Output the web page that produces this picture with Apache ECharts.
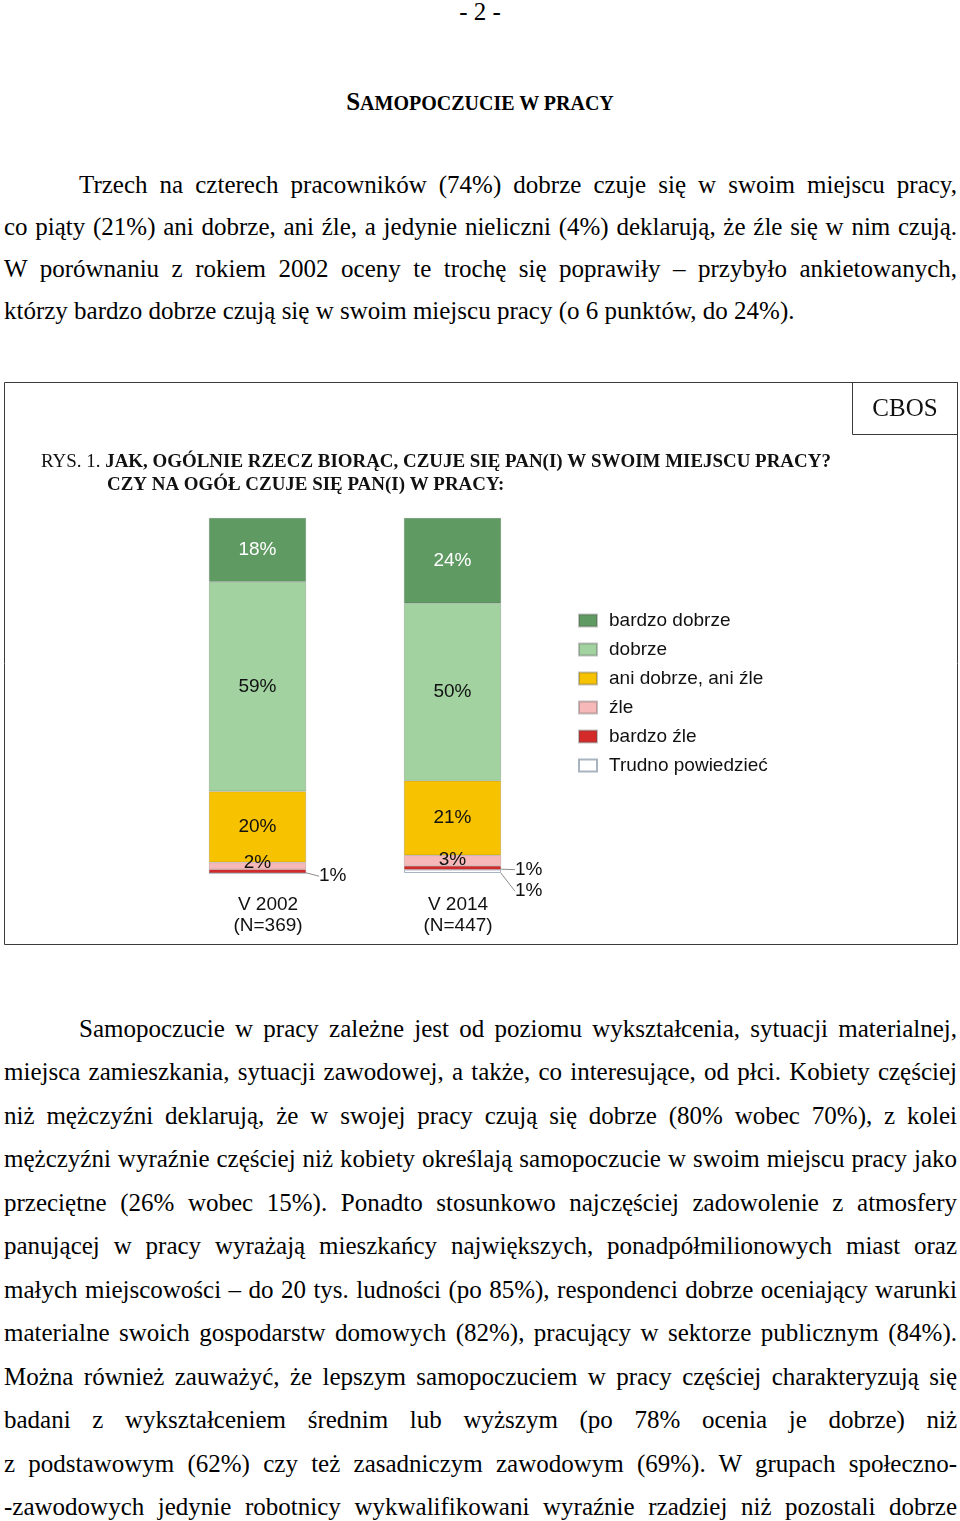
<!DOCTYPE html>
<html lang="pl">
<head>
<meta charset="utf-8">
<title>Samopoczucie w pracy</title>
<script src="https://cdn.jsdelivr.net/npm/echarts@6/dist/echarts.min.js"></script>
<style>
  html, body { margin: 0; padding: 0; background: #fff; }
  body { width: 960px; height: 1521px; position: relative; overflow: hidden;
         font-family: 'Liberation Serif', 'Times New Roman', serif; color: #000; }
  .abs { position: absolute; }
  .pagenum { left: 0; width: 960px; top: -3px; text-align: center; font-size: 25px; line-height: 30px; }
  .heading { left: 0; width: 960px; top: 87px; text-align: center; font-weight: bold; line-height: 30px; }
  .para { left: 4px; width: 953px; font-size: 25px; }
  .ln { white-space: normal; height: auto; }
  .j { text-align: justify; text-align-last: justify; }
  .l { text-align: left; }
  .ind { padding-left: 75px; }
  #chart { position: absolute; left: 0; top: 382px; width: 960px; height: 564px; }
</style>
</head>
<body>
<div class="abs pagenum">- 2 -</div>
<div class="abs heading"><span style="font-size:25px">S</span><span style="font-size:20px">AMOPOCZUCIE W PRACY</span></div>

<div class="abs para" id="p1" style="top:164px; line-height:42px;">
  <div class="ln j ind">Trzech na czterech pracowników (74%) dobrze czuje się w swoim miejscu pracy,</div>
  <div class="ln j">co piąty (21%) ani dobrze, ani źle, a jedynie nieliczni (4%) deklarują, że źle się w nim czują.</div>
  <div class="ln j">W porównaniu z rokiem 2002 oceny te trochę się poprawiły – przybyło ankietowanych,</div>
  <div class="ln l">którzy bardzo dobrze czują się w swoim miejscu pracy (o 6 punktów, do 24%).</div>
</div>

<div id="chart"></div>

<div class="abs para" id="p2" style="top:1007px; line-height:43.45px;">
  <div class="ln j ind">Samopoczucie w pracy zależne jest od poziomu wykształcenia, sytuacji materialnej,</div>
  <div class="ln j">miejsca zamieszkania, sytuacji zawodowej, a także, co interesujące, od płci. Kobiety częściej</div>
  <div class="ln j">niż mężczyźni deklarują, że w swojej pracy czują się dobrze (80% wobec 70%), z kolei</div>
  <div class="ln j">mężczyźni wyraźnie częściej niż kobiety określają samopoczucie w swoim miejscu pracy jako</div>
  <div class="ln j">przeciętne (26% wobec 15%). Ponadto stosunkowo najczęściej zadowolenie z atmosfery</div>
  <div class="ln j">panującej w pracy wyrażają mieszkańcy największych, ponadpółmilionowych miast oraz</div>
  <div class="ln j">małych miejscowości – do 20 tys. ludności (po 85%), respondenci  dobrze oceniający warunki</div>
  <div class="ln j">materialne swoich gospodarstw domowych (82%), pracujący w sektorze publicznym (84%).</div>
  <div class="ln j">Można również zauważyć, że lepszym samopoczuciem w pracy częściej charakteryzują się</div>
  <div class="ln j">badani z wykształceniem średnim lub wyższym (po 78% ocenia je dobrze) niż</div>
  <div class="ln j">z podstawowym (62%) czy też zasadniczym zawodowym (69%). W grupach społeczno-</div>
  <div class="ln j">-zawodowych jedynie robotnicy wykwalifikowani wyraźnie rzadziej niż pozostali dobrze</div>
</div>

<script>
// ---- Data ----
const categories = ['V 2002', 'V 2014'];
const sampleSizes = ['(N=369)', '(N=447)'];
const seriesNames = ['bardzo dobrze', 'dobrze', 'ani dobrze, ani źle', 'źle', 'bardzo źle', 'Trudno powiedzieć'];
const bardzoDobrze = [18, 24];
const dobrze = [59, 50];
const aniDobrzeAniZle = [20, 21];
const zle = [2, 3];
const bardzoZle = [1, 1];
const trudnoPowiedziec = [0, 1];

const titlePrefix = 'RYS. 1. ';
const titleLine1 = 'JAK, OGÓLNIE RZECZ BIORĄC, CZUJE SIĘ PAN(I) W SWOIM MIEJSCU PRACY?';
const titleLine2 = 'CZY NA OGÓŁ CZUJE SIĘ PAN(I) W PRACY:';
const sourceLabel = 'CBOS';

// ---- Styles ----
const colors = ['#5f9a62', '#a1d2a0', '#f7c200', '#f6b8b8', '#d42a2a', '#ffffff'];
const sans = 'Liberation Sans, Arial, sans-serif';
const serif = 'Liberation Serif, Times New Roman, serif';
const fs = 19;

// fit bold title width
const cnv = document.createElement('canvas').getContext('2d');
cnv.font = 'bold 100px "Liberation Serif"';
const w100 = cnv.measureText(titleLine1).width;
const titleSize = Math.max(14, Math.min(22, 726 / w100 * 100));

const values = [bardzoDobrze, dobrze, aniDobrzeAniZle, zle, bardzoZle, trudnoPowiedziec];

function labelFor(i) {
  const base = { show: true, fontFamily: sans, fontSize: fs, color: '#111', formatter: '{c}%' };
  if (i === 0) return Object.assign(base, { position: 'inside', color: '#fff' });
  if (i <= 3) return Object.assign(base, { position: 'inside' });
  return Object.assign(base, { position: 'right', distance: 5 });
}
function layoutFor(i) {
  if (i === 3) return function (p) { return { dy: p.dataIndex === 0 ? -3 : -1 }; };
  if (i === 4) return function (p) { return p.dataIndex === 0 ? { dx: 8, dy: 5 } : { dx: 9, dy: 2 }; };
  if (i === 5) return function (p) { return { dx: 9, dy: 20 }; };
  return undefined;
}

// bottom of the stack first: 'Trudno powiedzieć' ... 'bardzo dobrze' on top
const series = seriesNames.map(function (name, i) {
  const s = {
    name: name,
    type: 'bar',
    stack: 'total',
    barWidth: 97,
    itemStyle: {
      color: colors[i],
      borderColor: i === 5 ? '#a8b4c0' : 'rgba(80,80,80,0.35)',
      borderWidth: i === 5 ? 1 : 0.6
    },
    label: labelFor(i),
    emphasis: { disabled: true },
    data: values[i].map(function (v) {
      return v > 0 ? { value: v } : { value: v, label: { show: false }, labelLine: { show: false } };
    })
  };
  const lay = layoutFor(i);
  if (lay) s.labelLayout = lay;
  if (i >= 4) s.labelLine = { show: true, lineStyle: { color: '#8c8c8c', width: 1 } };
  return s;
}).reverse();

const chart = echarts.init(document.getElementById('chart'), null, { renderer: 'canvas' });
chart.setOption({
  animation: false,
  backgroundColor: 'transparent',
  grid: { left: 160, width: 390, top: 136, bottom: 73, containLabel: false },
  xAxis: {
    type: 'category',
    data: categories,
    axisLine: { show: false },
    axisTick: { show: false },
    axisLabel: {
      margin: 22,
      formatter: function (v, idx) {
        const k = 'p' + idx;
        return '{' + k + '|' + v + '}\n{' + k + '|' + sampleSizes[idx] + '}';
      },
      rich: {
        p0: { fontFamily: sans, fontSize: fs, lineHeight: 20.5, color: '#111', padding: [0, 0, 0, 21] },
        p1: { fontFamily: sans, fontSize: fs, lineHeight: 20.5, color: '#111', padding: [0, 0, 0, 11] }
      }
    }
  },
  yAxis: { type: 'value', min: 0, max: 100, show: false, splitLine: { show: false } },
  legend: {
    data: seriesNames,
    orient: 'vertical',
    left: 578,
    top: 229,
    padding: 0,
    itemWidth: 18,
    itemHeight: 12,
    itemGap: 10,
    icon: 'rect',
    selectedMode: false,
    textStyle: { fontFamily: sans, fontSize: fs, lineHeight: 19, color: '#111', padding: [0, 0, 0, 7] }
  },
  graphic: [
    { type: 'rect', shape: { x: 4.5, y: 0.5, width: 953, height: 562 }, style: { fill: 'none', stroke: '#3a3a3a', lineWidth: 1 }, silent: true },
    { type: 'rect', shape: { x: 852.5, y: 0.5, width: 105, height: 52 }, style: { fill: 'none', stroke: '#3a3a3a', lineWidth: 1 }, silent: true },
    { type: 'text', x: 905, y: 27, style: { text: sourceLabel, fontFamily: serif, fontSize: 25, fill: '#111', textAlign: 'center', textVerticalAlign: 'middle' } },
    { type: 'text', x: 41, y: 80, style: {
        text: '{r|' + titlePrefix + '}{b|' + titleLine1 + '}',
        textVerticalAlign: 'middle',
        rich: {
          r: { fontFamily: serif, fontSize: titleSize, fill: '#111' },
          b: { fontFamily: serif, fontSize: titleSize, fontWeight: 'bold', fill: '#111' }
        }
      } },
    { type: 'text', x: 107, y: 103, style: { text: titleLine2, fontFamily: serif, fontSize: titleSize, fontWeight: 'bold', fill: '#111', textVerticalAlign: 'middle' } }
  ],
  series: series
});
</script>
</body>
</html>
